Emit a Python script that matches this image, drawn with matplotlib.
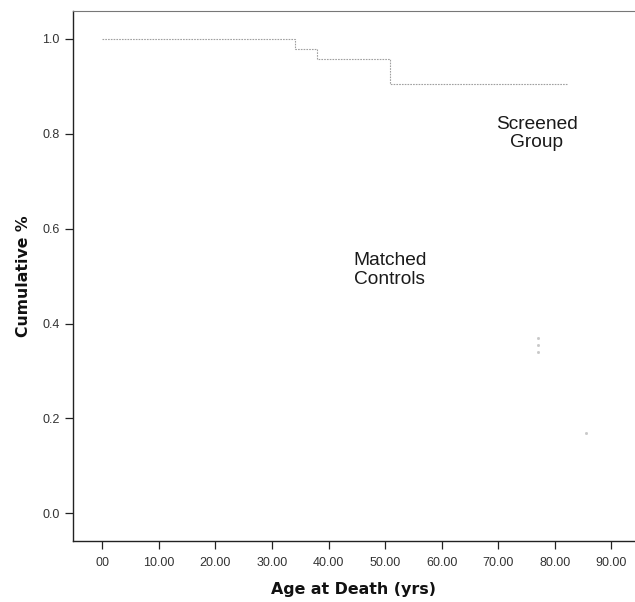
import matplotlib
matplotlib.use("Agg")
import matplotlib.pyplot as plt

# ---- data ----
screened_age = [0.0, 34.0, 38.0, 50.8, 82.3]
screened_cum = [1.0, 0.979, 0.958, 0.904, 0.904]

# faint visible fragments of the matched-controls curve
matched_age = [77.0, 77.0, 77.0, 85.5]
matched_cum = [0.37, 0.355, 0.34, 0.17]

x_ticks = [0, 10, 20, 30, 40, 50, 60, 70, 80, 90]
x_ticklabels = ["00", "10.00", "20.00", "30.00", "40.00", "50.00",
                "60.00", "70.00", "80.00", "90.00"]
y_ticks = [0.0, 0.2, 0.4, 0.6, 0.8, 1.0]
y_ticklabels = ["0.0", "0.2", "0.4", "0.6", "0.8", "1.0"]

fig = plt.figure(figsize=(6.35, 6.02), dpi=100)
ax = fig.add_axes([0.1145, 0.1018, 0.885, 0.880])

ax.plot(screened_age, screened_cum, drawstyle="steps-post",
        color="#a0a0a0", linewidth=0.8, linestyle=(0, (1.5, 1.0)))
ax.plot(matched_age, matched_cum, linestyle="none", marker="s",
        markersize=1.0, color="#c8c8c8")

ax.text(76.8, 0.80, "Screened\nGroup", ha="center", va="center",
        fontsize=13.8, family="Liberation Sans", color="#1a1a1a",
        linespacing=1.1)
ax.text(50.8, 0.513, "Matched\nControls", ha="center", va="center",
        fontsize=13.8, family="Liberation Sans", color="#1a1a1a",
        linespacing=1.1)

ax.set_xlim(-5.23, 94.1)
ax.set_ylim(-0.058, 1.059)
ax.set_xticks(x_ticks)
ax.set_xticklabels(x_ticklabels)
ax.set_yticks(y_ticks)
ax.set_yticklabels(y_ticklabels)
ax.tick_params(direction="out", length=5.5, width=0.9, color="#222222",
               labelsize=9, labelcolor="#333333")
ax.tick_params(axis="x", pad=6.5)
ax.tick_params(axis="y", pad=4)
for lab in ax.get_xticklabels() + ax.get_yticklabels():
    lab.set_family("Liberation Sans")

for s in ["left", "bottom"]:
    ax.spines[s].set_color("#222222")
    ax.spines[s].set_linewidth(1.0)
ax.spines["top"].set_color("#777777")
ax.spines["top"].set_linewidth(0.8)
ax.spines["right"].set_visible(False)

ax.set_xlabel("Age at Death (yrs)", fontsize=11.4, fontweight="bold",
              family="DejaVu Sans", labelpad=9, color="#111111")
ax.set_ylabel("Cumulative %", fontsize=11.3, fontweight="bold",
              family="DejaVu Sans", labelpad=8, color="#111111")

fig.savefig("out.png", dpi=100)
